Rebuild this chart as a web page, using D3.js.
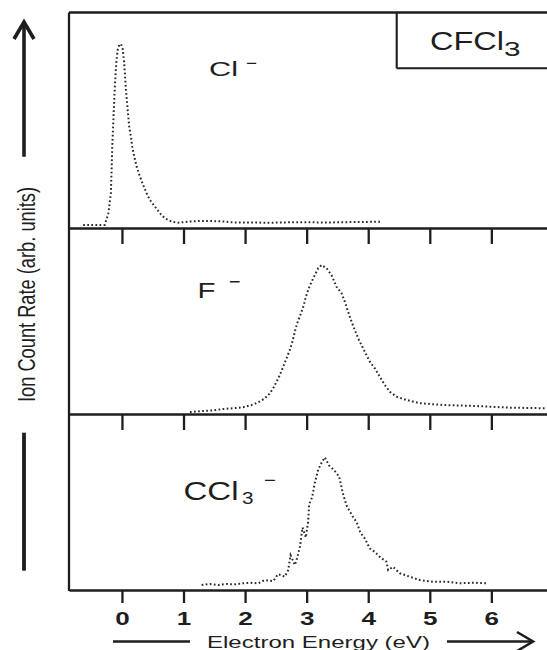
<!DOCTYPE html>
<html>
<head>
<meta charset="utf-8">
<script src="https://cdn.jsdelivr.net/npm/d3@7"></script>
<style>
  html, body { margin: 0; padding: 0; background: #ffffff; }
  svg { display: block; }
  text { font-family: "Liberation Sans", Arial, Helvetica, sans-serif; fill: #1e1e1e; }
</style>
</head>
<body>
<svg id="chart" width="547" height="650"></svg>
<script>
// ---------------- data ----------------
const tickValues = [0, 1, 2, 3, 4, 5, 6];
const tickLabels = ["0", "1", "2", "3", "4", "5", "6"];

// Cl- panel (energy in eV, ion count rate in arb. units)
const clEnergy = [-0.63, -0.50, -0.38, -0.28, -0.22, -0.18, -0.157, -0.135, -0.114, -0.093, -0.070, -0.044, -0.016,
  0.011, 0.037, 0.065, 0.093, 0.118, 0.146, 0.167, 0.200, 0.239, 0.292, 0.346, 0.401, 0.455, 0.536, 0.617, 0.698,
  0.807, 0.914, 1.076, 1.3, 1.6, 1.8, 2.1, 2.4, 2.7, 3.0, 3.3, 3.6, 3.9, 4.22];
const clCount = [0.5, 0.5, 0.5, 0.6, 7.0, 18.0, 43.6, 61.9, 77.5, 89.4, 96.7, 99.5, 100,
  97.6, 89.4, 74.7, 63.7, 54.6, 49.1, 43.6, 38.1, 32.6, 27.1, 22.5, 18.0, 14.3, 10.6, 7.0, 4.2,
  2.4, 1.8, 2.4, 2.8, 2.6, 2.0, 1.9, 1.8, 2.0, 2.1, 1.9, 2.1, 2.2, 2.4];

// F- panel
const fEnergy = [1.104, 1.320, 1.482, 1.644, 1.807, 1.969, 2.106, 2.213, 2.321, 2.403, 2.456, 2.511, 2.565, 2.619,
  2.674, 2.727, 2.771, 2.808, 2.846, 2.917, 2.955, 2.987, 3.024, 3.080, 3.133, 3.187, 3.242, 3.323, 3.404, 3.485,
  3.567, 3.620, 3.674, 3.729, 3.782, 3.836, 3.917, 4.026, 4.107, 4.188, 4.269, 4.351, 4.459, 4.622, 4.838, 5.216,
  5.758, 6.299, 6.894];
const fCount = [0.6, 1.4, 1.8, 2.7, 3.2, 3.9, 5.4, 7.2, 9.9, 13.3, 16.7, 21.1, 25.7, 31.3,
  37.0, 42.6, 48.6, 54.9, 60.6, 68.4, 73.0, 78.6, 83.1, 88.7, 93.2, 97.8, 100, 97.8, 93.2, 85.3,
  80.9, 75.2, 68.4, 61.7, 56.1, 50.5, 43.7, 34.7, 30.2, 24.5, 18.9, 14.4, 11.0, 8.8, 6.6, 5.4,
  4.7, 3.6, 3.2];

// CCl3- panel
const cclEnergy = [1.294, 1.429, 1.563, 1.700, 1.834, 1.969, 2.078, 2.213, 2.321, 2.456, 2.537, 2.646, 2.700, 2.739,
  2.808, 2.846, 2.890, 2.933, 2.987, 3.024, 3.041, 3.089, 3.133, 3.187, 3.231, 3.295, 3.365, 3.442, 3.528, 3.567,
  3.583, 3.648, 3.690, 3.755, 3.810, 3.875, 3.945, 4.026, 4.107, 4.188, 4.297, 4.323, 4.404, 4.513, 4.675, 4.838,
  5.054, 5.271, 5.487, 5.703, 5.946];
const cclCount = [0.8, 1.5, 0.8, 1.5, 1.3, 2.1, 2.5, 2.1, 4.6, 3.8, 9.2, 7.2, 12.3, 23.8,
  16.2, 21.8, 30.2, 45.2, 37.5, 49.5, 63.1, 68.7, 79.8, 89.8, 94.4, 99.5, 93.1, 89.8, 84.6, 76.4,
  72.5, 62.3, 58.5, 53.3, 49.5, 41.0, 36.7, 29.0, 26.4, 22.5, 18.7, 12.3, 14.8, 9.8, 7.2, 4.6,
  3.3, 3.3, 2.1, 2.5, 2.1];

const moleculeLabel = "CFCl";
const moleculeSub = "3";
const xAxisLabel = "Electron Energy (eV)";
const yAxisLabel = "Ion Count Rate (arb. units)";

// ---------------- layout ----------------
const svg = d3.select("#chart");
const ink = "#1e1e1e";
const dotInk = "#2a2a2a";

const x = d3.scaleLinear().domain([-0.86, 7.05]).range([69, 556]);
const frameLeft = x(-0.86), frameRight = 562;

const panels = [
  { energy: clEnergy,  count: clCount,  top: 12.5, bottom: 228, dom: [-1.1, 117.3], tick: 16 },
  { energy: fEnergy,   count: fCount,   top: 228,  bottom: 414, dom: [-0.68, 125],  tick: 16 },
  { energy: cclEnergy, count: cclCount, top: 414,  bottom: 590, dom: [-3.1, 133],   tick: 13 }
];
panels.forEach(p => { p.y = d3.scaleLinear().domain(p.dom).range([p.bottom, p.top]); });

// frame: left and top
svg.append("line").attr("x1", frameLeft).attr("x2", frameLeft).attr("y1", 12.5).attr("y2", 591)
  .attr("stroke", ink).attr("stroke-width", 2.3);
svg.append("line").attr("x1", frameLeft).attr("x2", frameRight).attr("y1", 12.5).attr("y2", 12.5)
  .attr("stroke", ink).attr("stroke-width", 2.3);

// panel axes (domain line acts as divider)
panels.forEach((p, i) => {
  const last = i === panels.length - 1;
  const axis = d3.axisBottom(x).tickValues(tickValues).tickSize(p.tick).tickSizeOuter(0)
    .tickFormat(last ? (d, k) => tickLabels[k] : () => "");
  const g = svg.append("g").attr("transform", `translate(0,${p.bottom})`).call(axis);
  g.select(".domain").attr("stroke", ink).attr("stroke-width", 2.6);
  g.selectAll(".tick line").attr("stroke", ink).attr("stroke-width", 2.3);
  if (last) {
    g.selectAll(".tick text")
      .attr("y", 34.5).attr("dy", 0)
      .attr("font-size", 18).attr("font-weight", "bold")
      .attr("font-family", "'Liberation Sans', Arial, sans-serif")
      .attr("fill", ink)
      .attr("textLength", 14.5).attr("lengthAdjust", "spacingAndGlyphs");
  } else {
    g.selectAll(".tick text").remove();
  }
});

// data curves (dotted, like the scanned point plots)
panels.forEach(p => {
  const pts = p.energy.map((e, k) => [e, p.count[k]]);
  const line = d3.line().x(d => x(d[0])).y(d => p.y(d[1]));
  svg.append("path").datum(pts).attr("d", line)
    .attr("fill", "none").attr("stroke", dotInk).attr("stroke-width", 2)
    .attr("stroke-dasharray", "1.7 2.4");
});

// ion labels
function lbl(t, px, py, size, len) {
  return svg.append("text").attr("x", px).attr("y", py).attr("font-size", size)
    .attr("textLength", len).attr("lengthAdjust", "spacingAndGlyphs").text(t);
}
lbl("Cl", 209, 76, 20.5, 29);
lbl("\u2212", 246, 69.5, 20, 11);
lbl("F", 197.5, 297.7, 22, 18);
lbl("\u2212", 229, 289, 22, 11.5);
lbl("CCl", 183.5, 500, 25, 55);
lbl("3", 242, 503.5, 16, 11.5);
lbl("\u2212", 264, 487, 20, 12);

// molecule box
svg.append("line").attr("x1", 396.7).attr("x2", 396.7).attr("y1", 12.5).attr("y2", 68.3)
  .attr("stroke", ink).attr("stroke-width", 2.1);
svg.append("line").attr("x1", 396.7).attr("x2", frameRight).attr("y1", 68.3).attr("y2", 68.3)
  .attr("stroke", ink).attr("stroke-width", 2.1);
lbl(moleculeLabel, 430, 50, 25, 74);
lbl(moleculeSub, 504, 55.5, 21, 16.5);

// x-axis title with arrow
svg.append("text").attr("x", 207).attr("y", 647.5).attr("font-size", 16.5)
  .attr("textLength", 223).attr("lengthAdjust", "spacingAndGlyphs").text(xAxisLabel);
svg.append("line").attr("x1", 113).attr("x2", 190).attr("y1", 641.5).attr("y2", 641.5)
  .attr("stroke", ink).attr("stroke-width", 2.6);
svg.append("line").attr("x1", 447).attr("x2", 532).attr("y1", 641.5).attr("y2", 641.5)
  .attr("stroke", ink).attr("stroke-width", 2.6);
svg.append("polyline").attr("points", "517,632 533,641.5 517,651")
  .attr("fill", "none").attr("stroke", ink).attr("stroke-width", 2.6);

// y-axis title with arrow
svg.append("text").attr("transform", "translate(34.5,294.5) rotate(-90)")
  .attr("text-anchor", "middle").attr("font-size", 23)
  .attr("textLength", 215).attr("lengthAdjust", "spacingAndGlyphs").text(yAxisLabel);
svg.append("line").attr("x1", 24).attr("x2", 24).attr("y1", 156.7).attr("y2", 23)
  .attr("stroke", ink).attr("stroke-width", 3.6);
svg.append("polyline").attr("points", "14,39 24,22 34,39")
  .attr("fill", "none").attr("stroke", ink).attr("stroke-width", 3.6);
svg.append("line").attr("x1", 24).attr("x2", 24).attr("y1", 432.7).attr("y2", 570.7)
  .attr("stroke", ink).attr("stroke-width", 3.8);
</script>
</body>
</html>
